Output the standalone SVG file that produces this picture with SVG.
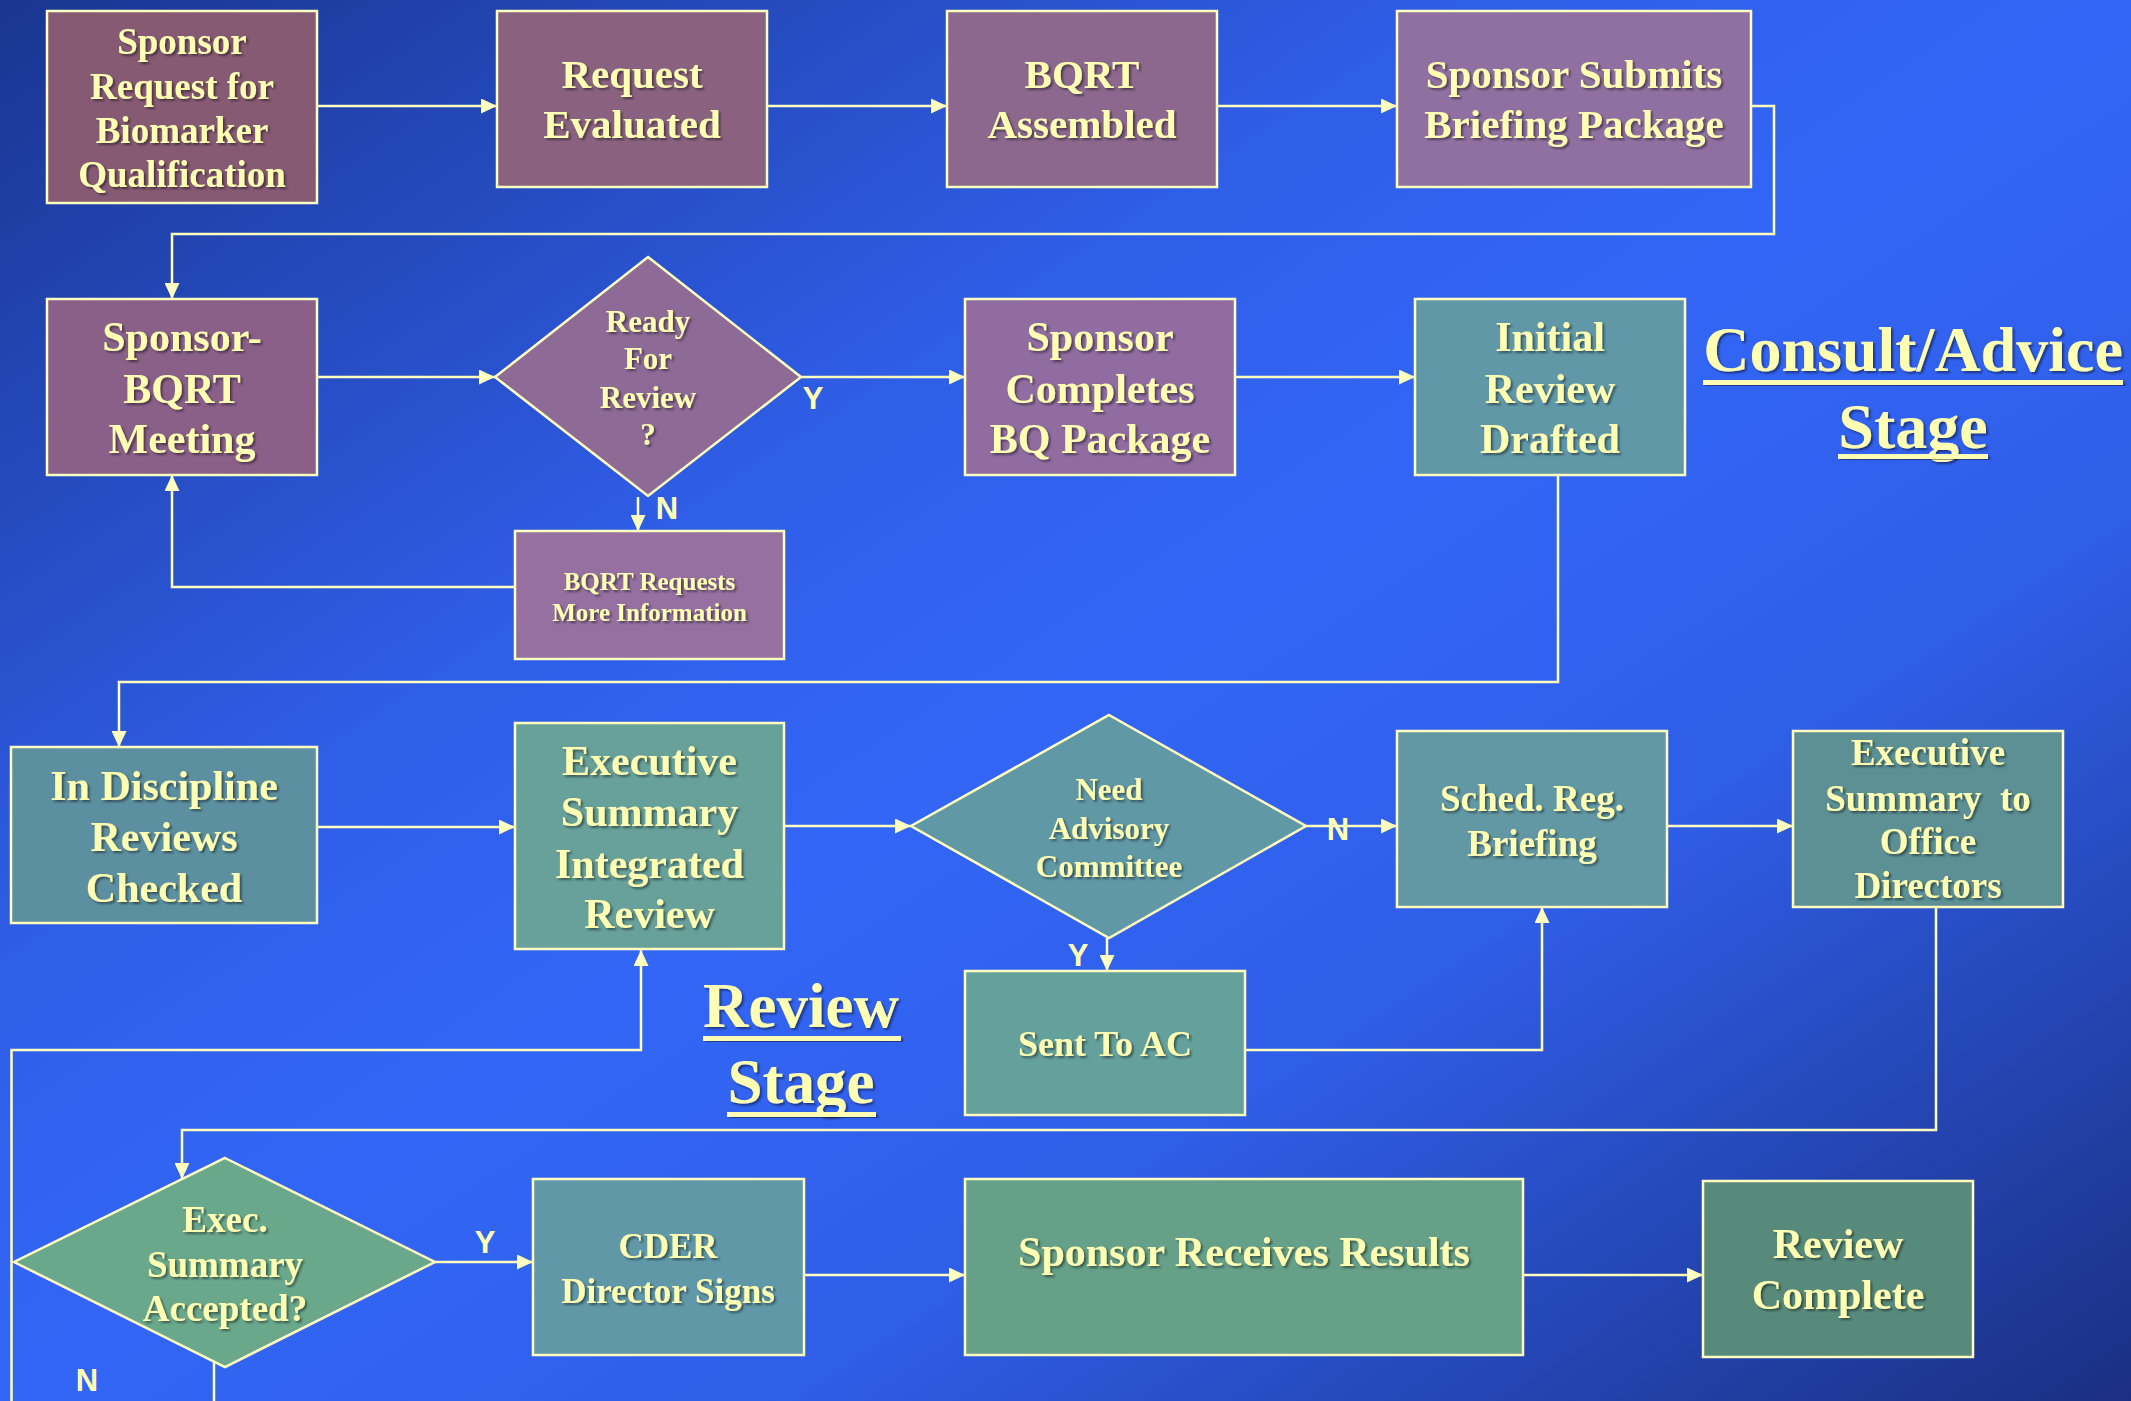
<svg xmlns="http://www.w3.org/2000/svg" width="2131" height="1401" viewBox="0 0 2131 1401">
<defs>
<linearGradient id="bg" x1="0" y1="0" x2="1" y2="1">
<stop offset="0" stop-color="#1a3590"/>
<stop offset="0.35" stop-color="#2f5ee8"/>
<stop offset="0.5" stop-color="#3366f6"/>
<stop offset="0.68" stop-color="#2f5ee8"/>
<stop offset="1" stop-color="#1a2f82"/>
</linearGradient>
<marker id="ah" viewBox="0 0 16 15" refX="16" refY="7.5" markerWidth="16" markerHeight="15" markerUnits="userSpaceOnUse" orient="auto">
<path d="M0,0 L16,7.5 L0,15 Z" fill="#ffffc0"/>
</marker>
<filter id="sh" x="-5%" y="-5%" width="115%" height="120%">
<feDropShadow dx="2" dy="2" stdDeviation="1" flood-color="#000" flood-opacity="0.45"/>
</filter>
</defs>
<style>
.box{stroke:#ffffc0;stroke-width:2.5}
.t{font-family:"Liberation Serif","Times New Roman",serif;font-weight:bold;fill:#ffffb4;text-anchor:middle;filter:url(#sh)}
.lab{font-family:"Liberation Sans",Arial,sans-serif;font-weight:bold;fill:#ffffb4;text-anchor:middle;font-size:31px}
.c{fill:none;stroke:#ffffc0;stroke-width:2.5}
.ul{fill:#ffffb4;filter:url(#sh)}
</style>
<rect x="0" y="0" width="2131" height="1401" fill="url(#bg)"/>

<g id="connectors">
<path class="c" d="M317,106 H497" marker-end="url(#ah)"/>
<path class="c" d="M767,106 H947" marker-end="url(#ah)"/>
<path class="c" d="M1217,106 H1397" marker-end="url(#ah)"/>
<path class="c" d="M1751,106 H1774 V234 H172 V299" marker-end="url(#ah)"/>
<path class="c" d="M317,377 H495" marker-end="url(#ah)"/>
<path class="c" d="M801,377 H965" marker-end="url(#ah)"/>
<path class="c" d="M1235,377 H1415" marker-end="url(#ah)"/>
<path class="c" d="M638,497 V531" marker-end="url(#ah)"/>
<path class="c" d="M515,587 H172 V475" marker-end="url(#ah)"/>
<path class="c" d="M1558,475 V682 H119 V747" marker-end="url(#ah)"/>
<path class="c" d="M317,827 H515" marker-end="url(#ah)"/>
<path class="c" d="M784,826 H911" marker-end="url(#ah)"/>
<path class="c" d="M1306,826 H1397" marker-end="url(#ah)"/>
<path class="c" d="M1107,938 V971" marker-end="url(#ah)"/>
<path class="c" d="M1245,1050 H1542 V907" marker-end="url(#ah)"/>
<path class="c" d="M1667,826 H1793" marker-end="url(#ah)"/>
<path class="c" d="M1936,907 V1130 H182 V1179" marker-end="url(#ah)"/>
<path class="c" d="M435,1262 H533" marker-end="url(#ah)"/>
<path class="c" d="M214,1361 V1420 H11.5 V1050 H641 V950" marker-end="url(#ah)"/>
<path class="c" d="M804,1275 H965" marker-end="url(#ah)"/>
<path class="c" d="M1523,1275 H1703" marker-end="url(#ah)"/>
<text class="lab" x="813" y="409">Y</text>
<text class="lab" x="667" y="519">N</text>
<text class="lab" x="1338" y="840">N</text>
<text class="lab" x="1078" y="966">Y</text>
<text class="lab" x="485" y="1253">Y</text>
<text class="lab" x="87" y="1391">N</text>
</g>

<g id="n-sponsor-request">
<rect class="box" x="47" y="11" width="270" height="192" fill="#875a74"/>
<text class="t" font-size="37"><tspan x="182" y="54">Sponsor</tspan><tspan x="182" y="99">Request for</tspan><tspan x="182" y="143">Biomarker</tspan><tspan x="182" y="187">Qualification</tspan></text>
</g>
<g id="n-request-evaluated">
<rect class="box" x="497" y="11" width="270" height="176" fill="#8a6280"/>
<text class="t" font-size="41"><tspan x="632" y="88">Request</tspan><tspan x="632" y="138">Evaluated</tspan></text>
</g>
<g id="n-bqrt-assembled">
<rect class="box" x="947" y="11" width="270" height="176" fill="#8c688e"/>
<text class="t" font-size="41"><tspan x="1082" y="88">BQRT</tspan><tspan x="1082" y="138">Assembled</tspan></text>
</g>
<g id="n-sponsor-submits">
<rect class="box" x="1397" y="11" width="354" height="176" fill="#9070a0"/>
<text class="t" font-size="41"><tspan x="1574" y="88">Sponsor Submits</tspan><tspan x="1574" y="138">Briefing Package</tspan></text>
</g>
<g id="n-sponsor-bqrt-meeting">
<rect class="box" x="47" y="299" width="270" height="176" fill="#8a6088"/>
<text class="t" font-size="42"><tspan x="182" y="351">Sponsor-</tspan><tspan x="182" y="403">BQRT</tspan><tspan x="182" y="453">Meeting</tspan></text>
</g>
<g id="n-ready-for-review">
<polygon class="box" points="648,257 801,377 648,496 495,377" fill="#8e6a96"/>
<text class="t" font-size="31"><tspan x="648" y="332">Ready</tspan><tspan x="648" y="369">For</tspan><tspan x="648" y="408">Review</tspan><tspan x="648" y="445">?</tspan></text>
</g>
<g id="n-bqrt-requests">
<rect class="box" x="515" y="531" width="269" height="128" fill="#9570a0"/>
<text class="t" font-size="25"><tspan x="649.5" y="590">BQRT Requests</tspan><tspan x="649.5" y="621">More Information</tspan></text>
</g>
<g id="n-sponsor-completes">
<rect class="box" x="965" y="299" width="270" height="176" fill="#906ca0"/>
<text class="t" font-size="42"><tspan x="1100" y="351">Sponsor</tspan><tspan x="1100" y="403">Completes</tspan><tspan x="1100" y="453">BQ Package</tspan></text>
</g>
<g id="n-initial-review">
<rect class="box" x="1415" y="299" width="270" height="176" fill="#6098a8"/>
<text class="t" font-size="42"><tspan x="1550" y="351">Initial</tspan><tspan x="1550" y="403">Review</tspan><tspan x="1550" y="453">Drafted</tspan></text>
</g>
<g id="n-in-discipline">
<rect class="box" x="11" y="747" width="306" height="176" fill="#5c90a0"/>
<text class="t" font-size="42"><tspan x="164" y="800">In Discipline</tspan><tspan x="164" y="851">Reviews</tspan><tspan x="164" y="902">Checked</tspan></text>
</g>
<g id="n-exec-summary-integrated">
<rect class="box" x="515" y="723" width="269" height="226" fill="#68a09a"/>
<text class="t" font-size="42"><tspan x="649.5" y="775">Executive</tspan><tspan x="649.5" y="826">Summary</tspan><tspan x="649.5" y="878">Integrated</tspan><tspan x="649.5" y="928">Review</tspan></text>
</g>
<g id="n-need-advisory">
<polygon class="box" points="1109,715 1306,826 1109,938 911,826" fill="#6098a6"/>
<text class="t" font-size="31"><tspan x="1109" y="800">Need</tspan><tspan x="1109" y="839">Advisory</tspan><tspan x="1109" y="877">Committee</tspan></text>
</g>
<g id="n-sched-reg">
<rect class="box" x="1397" y="731" width="270" height="176" fill="#6298a4"/>
<text class="t" font-size="37"><tspan x="1532" y="811">Sched. Reg.</tspan><tspan x="1532" y="856">Briefing</tspan></text>
</g>
<g id="n-exec-to-office">
<rect class="box" x="1793" y="731" width="270" height="176" fill="#5c9094"/>
<text class="t" font-size="37" xml:space="preserve"><tspan x="1928" y="765">Executive</tspan><tspan x="1928" y="811">Summary  to</tspan><tspan x="1928" y="854">Office</tspan><tspan x="1928" y="898">Directors</tspan></text>
</g>
<g id="n-sent-to-ac">
<rect class="box" x="965" y="971" width="280" height="144" fill="#64a09c"/>
<text class="t" font-size="36" x="1105" y="1056">Sent To AC</text>
</g>
<g id="n-exec-accepted">
<polygon class="box" points="225,1158 435,1262 225,1367 14,1262" fill="#6aa88c"/>
<text class="t" font-size="37"><tspan x="225" y="1232">Exec.</tspan><tspan x="225" y="1277">Summary</tspan><tspan x="225" y="1321">Accepted?</tspan></text>
</g>
<g id="n-cder-signs">
<rect class="box" x="533" y="1179" width="271" height="176" fill="#6098a8"/>
<text class="t" font-size="35"><tspan x="668" y="1258">CDER</tspan><tspan x="668" y="1303">Director Signs</tspan></text>
</g>
<g id="n-sponsor-receives">
<rect class="box" x="965" y="1179" width="558" height="176" fill="#66a088"/>
<text class="t" font-size="42" x="1244" y="1266">Sponsor Receives Results</text>
</g>
<g id="n-review-complete">
<rect class="box" x="1703" y="1181" width="270" height="176" fill="#588a7c"/>
<text class="t" font-size="42"><tspan x="1838" y="1258">Review</tspan><tspan x="1838" y="1309">Complete</tspan></text>
</g>

<g id="stage-consult">
<text class="t" font-size="64" x="1913" y="371">Consult/Advice</text>
<rect class="ul" x="1703" y="380" width="420" height="5"/>
<text class="t" font-size="64" x="1913" y="448">Stage</text>
<rect class="ul" x="1838" y="454" width="150" height="5"/>
</g>
<g id="stage-review">
<text class="t" font-size="63" x="801" y="1027">Review</text>
<rect class="ul" x="703" y="1036" width="198" height="5"/>
<text class="t" font-size="63" x="801" y="1103">Stage</text>
<rect class="ul" x="727" y="1112" width="149" height="5"/>
</g>
</svg>
